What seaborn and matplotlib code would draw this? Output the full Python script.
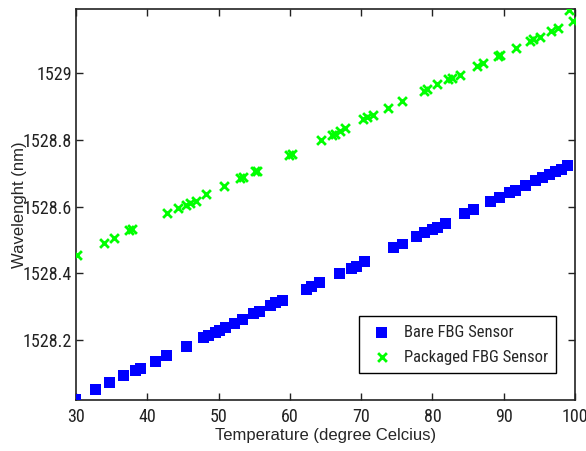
import matplotlib
matplotlib.use("Agg")
import matplotlib.pyplot as plt
import pandas as pd
import seaborn as sns
from matplotlib import font_manager

# ──── DATA ──────────────────────────────────────────────────────────────────

bare_temp = [30.0, 32.7, 34.7, 36.7, 38.4, 39.1, 41.2, 42.7, 45.5, 47.9,
             48.6, 49.6, 50.1, 51.0, 52.2, 53.4, 54.9, 55.8, 57.3, 58.0,
             59.0, 62.3, 63.1, 64.2, 67.0, 68.7, 69.4, 70.5, 74.6, 75.8,
             77.8, 78.9, 80.0, 80.7, 81.8, 84.5, 85.7, 88.2, 89.4, 90.8,
             91.6, 93.0, 94.5, 95.5, 96.4, 97.3, 98.1, 99.0]
bare_wl = [1528.025, 1528.054, 1528.074, 1528.094, 1528.110, 1528.117, 1528.137, 1528.155,
           1528.182, 1528.208, 1528.215, 1528.225, 1528.230, 1528.238, 1528.250, 1528.262,
           1528.280, 1528.286, 1528.304, 1528.312, 1528.320, 1528.352, 1528.360, 1528.372,
           1528.400, 1528.416, 1528.422, 1528.436, 1528.477, 1528.488, 1528.510, 1528.522,
           1528.532, 1528.538, 1528.550, 1528.578, 1528.590, 1528.614, 1528.626, 1528.642,
           1528.647, 1528.662, 1528.678, 1528.687, 1528.696, 1528.706, 1528.712, 1528.722]

pack_temp = [30.1, 33.9, 35.4, 37.5, 37.8, 42.8, 44.3, 45.4, 46.0, 46.8,
             48.3, 50.8, 53.0, 53.4, 55.1, 55.4, 59.9, 60.3, 64.3, 65.9,
             66.3, 67.0, 67.7, 70.2, 70.8, 71.7, 73.8, 75.8, 78.8, 79.2,
             80.7, 82.2, 82.7, 83.8, 86.2, 87.1, 89.2, 89.5, 91.7, 93.7,
             94.1, 95.1, 96.7, 97.6, 99.2, 99.7]
pack_wl = [1528.454, 1528.492, 1528.505, 1528.529, 1528.532, 1528.582, 1528.597, 1528.604,
           1528.610, 1528.617, 1528.637, 1528.660, 1528.685, 1528.687, 1528.705, 1528.707,
           1528.754, 1528.757, 1528.798, 1528.814, 1528.818, 1528.827, 1528.834, 1528.860,
           1528.866, 1528.874, 1528.894, 1528.914, 1528.944, 1528.950, 1528.965, 1528.980,
           1528.984, 1528.994, 1529.020, 1529.028, 1529.050, 1529.054, 1529.075, 1529.094,
           1529.100, 1529.107, 1529.124, 1529.134, 1529.187, 1529.154]

x_ticks = [30, 40, 50, 60, 70, 80, 90, 100]
y_ticks = [1528.2, 1528.4, 1528.6, 1528.8, 1529.0]
y_ticklabels = ["1528.2", "1528.4", "1528.6", "1528.8", "1529"]

df = pd.concat([
    pd.DataFrame({"temp": bare_temp, "wl": bare_wl, "sensor": "Bare FBG Sensor"}),
    pd.DataFrame({"temp": pack_temp, "wl": pack_wl, "sensor": "Packaged FBG Sensor"}),
])

# ──── FONTS ─────────────────────────────────────────────────────────────────

# look for a narrow face for ticks / legend (MATLAB-ish look)
fonts = font_manager.fontManager.ttflist
names = {f.name for f in fonts}
narrow_prop = None
for nm in ["Liberation Sans Narrow", "Roboto Condensed", "Open Sans Condensed",
           "DejaVu Sans Condensed", "Noto Sans Condensed"]:
    if nm in names:
        narrow_prop = dict(family=nm)
        break
if narrow_prop is None:
    for f in fonts:
        if str(f.stretch) in ("condensed", "semi-condensed", "extra-condensed") and f.style == "normal":
            narrow_prop = dict(family=f.name, stretch=f.stretch)
            break
if narrow_prop is None:
    narrow_prop = dict(family="Roboto")
    tick_size = 11
else:
    tick_size = 13

# ──── PLOT ──────────────────────────────────────────────────────────────────

sns.set_style("white")
plt.rcParams["font.family"] = ["Liberation Sans", "DejaVu Sans"]

fig = plt.figure(figsize=(5.86, 4.51), dpi=100)
ax = fig.add_axes([0.1297, 0.113, 0.8515, 0.867])

sns.scatterplot(data=df[df["sensor"] == "Bare FBG Sensor"], x="temp", y="wl",
                marker="s", s=62, color="#0000ff", edgecolor="none",
                label="Bare FBG Sensor", ax=ax, zorder=3)
sns.scatterplot(data=df[df["sensor"] == "Packaged FBG Sensor"], x="temp", y="wl",
                marker="x", s=40, color="#00ff00", linewidth=2,
                label="Packaged FBG Sensor", ax=ax, zorder=3)

ax.set_xlim(30, 100)
ax.set_ylim(1528.022, 1529.19)
ax.set_xticks(x_ticks)
ax.set_xticklabels([str(t) for t in x_ticks], fontsize=tick_size, **narrow_prop)
ax.set_yticks(y_ticks)
ax.set_yticklabels(y_ticklabels, fontsize=tick_size, **narrow_prop)
ax.tick_params(direction="in", length=5, width=1, top=True, right=True,
               bottom=True, left=True, colors="#222222")
ax.tick_params(axis="x", pad=6)
ax.tick_params(axis="y", pad=3)
for sp in ax.spines.values():
    sp.set_visible(True)
    sp.set_color("#222222")
    sp.set_linewidth(1.2)

ax.set_xlabel("Temperature (degree Celcius)", fontsize=12)
ax.set_ylabel("Wavelenght (nm)", fontsize=12)
ax.xaxis.set_label_coords(0.5, -0.071)
ax.yaxis.set_label_coords(-0.098, 0.5)

leg = ax.legend(loc="lower right", bbox_to_anchor=(0.962, 0.069), borderaxespad=0,
                frameon=True, fancybox=False, edgecolor="black", framealpha=1,
                prop=dict(size=12, **narrow_prop), handlelength=1.8,
                handletextpad=0.4, borderpad=0.5, labelspacing=0.6)
leg.get_frame().set_linewidth(1.0)

fig.savefig("out.png", dpi=100)
